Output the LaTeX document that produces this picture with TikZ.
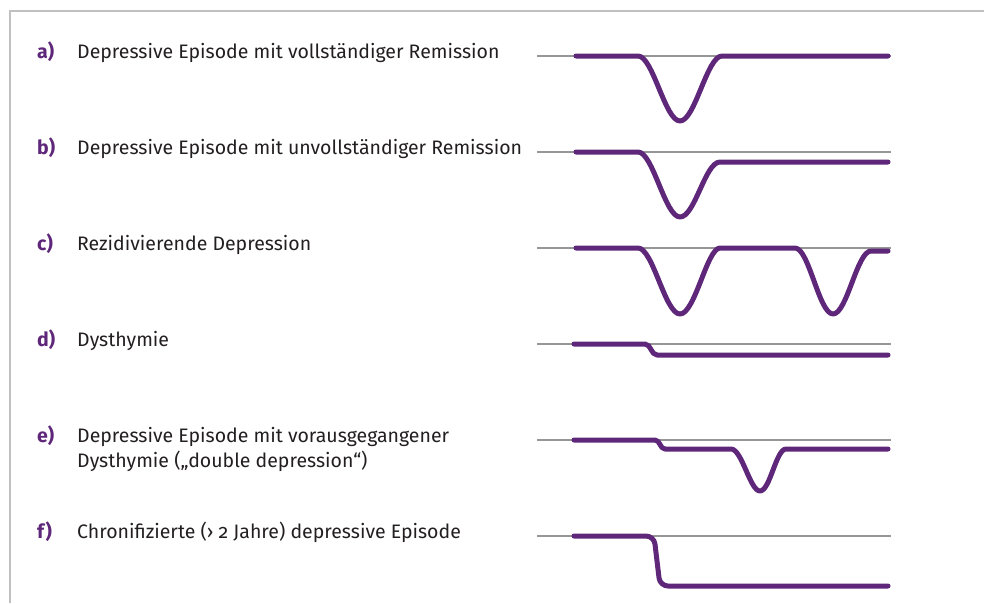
\documentclass[tikz,border=0pt]{standalone}
\usepackage{fontspec}
\setmainfont{Fira Sans}[Numbers=OldStyle]
\usepackage{tikz}
\usetikzlibrary{positioning}

\definecolor{episode}{RGB}{94,39,122}
\definecolor{textgray}{RGB}{35,31,32}
\definecolor{axisgray}{RGB}{150,150,150}
\definecolor{framegray}{RGB}{192,192,192}

\tikzset{
  letter/.style={anchor=base west,inner sep=0pt,text=episode,
    font=\fontsize{19.5}{25}\selectfont\bfseries},
  desc/.style={anchor=base west,inner sep=0pt,text=textgray,align=left,
    font=\fontsize{19.5}{25}\selectfont},
  zeroline/.style={axisgray,line width=1.2pt},
  course/.style={episode,line width=5pt,line cap=round,line join=round},
}

\begin{document}
\begin{tikzpicture}[x=1pt,y=-1pt]
  \useasboundingbox (0,0) rectangle (984,603);
  % frame, open to the right and below
  \draw[framegray,line width=1.5pt] (10,603) -- (10,11) -- (984,11);

  % a) full remission
  \node[letter] (la) at (37,58) {a)};
  \node[desc] (ta) at (77,58) {Depressive Episode mit vollständiger Remission};
  \draw[zeroline] (537,56) -- (891,56);
  \draw[course] (576,56) -- (638,56)
     .. controls (653,56) and (665,121) .. (680,121)
     .. controls (695,121) and (707,56) .. (722,56) -- (888,56);

  % b) incomplete remission
  \node[letter] (lb) at (37,154) {b)};
  \node[desc] (tb) at (77,154) {Depressive Episode mit unvollständiger Remission};
  \draw[zeroline] (537,152) -- (891,152);
  \draw[course] (576,152) -- (638,152)
     .. controls (653,152) and (665,217) .. (680,217)
     .. controls (695,217) and (705,162) .. (720,162) -- (888,162);

  % c) recurrent
  \node[letter] (lc) at (37,250) {c)};
  \node[desc] (tc) at (77,250) {Rezidivierende Depression};
  \draw[zeroline] (537,248) -- (891,248);
  \draw[course] (576,248) -- (638,248)
     .. controls (653,248) and (665,314) .. (680,314)
     .. controls (695,314) and (707,248) .. (720,248) -- (795,248)
     .. controls (809,248) and (819,314) .. (833,314)
     .. controls (847,314) and (857,251) .. (871,251) -- (888,251);

  % d) dysthymia
  \node[letter] (ld) at (37,346) {d)};
  \node[desc] (td) at (77,346) {Dysthymie};
  \draw[zeroline] (537,344) -- (891,344);
  \draw[course] (574,344) -- (645,344)
     .. controls (651,344) and (651,355) .. (657,355) -- (888,355);

  % e) double depression (base is the second line here)
  \node[letter] (le) at (37,442) {e)};
  \node[desc] (te) at (77,467) {Depressive Episode mit vorausgegangener\\Dysthymie („double depression“)};
  \draw[zeroline] (537,440) -- (891,440);
  \draw[course] (574,440) -- (655,440)
     .. controls (660,440) and (660,449) .. (665,449) -- (731,449)
     .. controls (742,449) and (750,491) .. (760,491)
     .. controls (770,491) and (776,449) .. (786,449) -- (888,449);

  % f) chronic
  \node[letter] (lf) at (37,538) {f)};
  \node[desc] (tf) at (77,538) {Chronifizierte (› 2 Jahre) depressive Episode};
  \draw[zeroline] (537,536) -- (891,536);
  \draw[course,rounded corners=8pt] (574,536) -- (654,536) -- (660,586) -- (888,586);
\end{tikzpicture}
\end{document}
